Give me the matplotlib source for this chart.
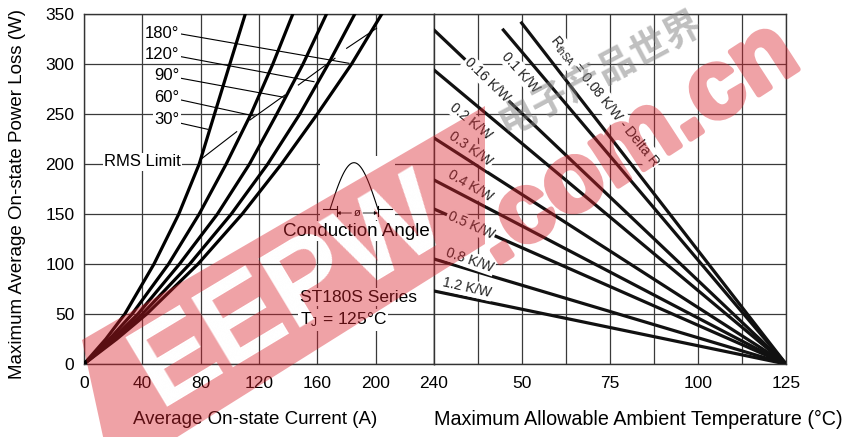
import numpy as np
import matplotlib.pyplot as plt
from matplotlib import patheffects as pe
from matplotlib.figure import Figure
from matplotlib.backends.backend_agg import FigureCanvasAgg
from matplotlib.patches import Polygon

plt.rcParams['font.family'] = ['Liberation Sans', 'DejaVu Sans']
plt.rcParams['mathtext.fontset'] = 'custom'
plt.rcParams['mathtext.rm'] = 'Liberation Sans'
plt.rcParams['mathtext.it'] = 'Liberation Sans'

# left panel: power loss vs average current for each conduction angle
power_levels = [0, 25, 50, 100, 150, 200, 250, 300, 350]
curve_labels = ['180°', '120°', '90°', '60°', '30°']
current_180 = [0, 22.5, 43, 78.2, 108.5, 135.4, 160, 183.5, 204.2]
current_120 = [0, 21, 40, 72.5, 101, 126, 148, 167.5, 185.7]
current_90 = [0, 19.5, 37, 65.5, 91.5, 113.5, 132.2, 150.2, 166.3]
current_60 = [0, 17.5, 33, 58, 79, 97.5, 114.5, 129.5, 143.2]
current_30 = [0, 15, 28, 48, 65, 79, 89.5, 100, 110.6]
curves = [current_180, current_120, current_90, current_60, current_30]

label_p = [331, 309.5, 288, 266.5, 244.5]
leader_start_p = [330, 307.3, 285.7, 264, 240.7]
leader_end_i = [181.7, 157.7, 137.2, 116.7, 84.8]
leader_end_p = [300.7, 282.3, 266.7, 248, 234.7]

# RMS limit line, drawn in pieces between the curves
rms_seg_i = [(79.5, 104.7), (113.8, 137.8), (147, 172.1), (180.1, 200.6)]
rms_seg_p = [(204, 232.3), (244, 269), (279, 305.7), (315.7, 335.7)]

# right panel: heatsink thermal resistance lines, all ending at 125 C / 0 W
rth_start_t = [49.9, 44.7, 25, 25, 25, 25, 25, 25, 25]
rth_start_p = [341, 334, 334, 294, 226, 184, 155, 105, 73]
rth_end_t = 125
rth_end_p = 0
rth_labels = [r'R$_{\mathrm{thSA}}$ = 0.08 K/W - Delta R', '0.1 K/W', '0.16 K/W',
              '0.2 K/W', '0.3 K/W', '0.4 K/W', '0.5 K/W', '0.8 K/W', '1.2 K/W']
rth_label_t = [73.3, 49.7, 40.1, 35.5, 35.5, 35.2, 35.5, 35.2, 34.4]
rth_label_p = [263, 291.5, 284, 243, 215, 178, 139, 104, 76.5]
rth_label_rot = [-51, -48, -44, -39, -35, -30, -24, -19, -13]

W, H = 846, 437


def fade(alpha):
    def f(img, dpi):
        img = img.copy()
        img[..., 3] *= alpha
        return img, 0, 0
    return f


fig = plt.figure(figsize=(W / 100, H / 100), dpi=100)
ax1 = fig.add_axes([84 / W, 73 / H, 350 / W, 350 / H])
ax2 = fig.add_axes([434 / W, 73 / H, 352 / W, 350 / H])

grid_kw = dict(color='#3a3a3a', linewidth=0.9)
white_box = dict(facecolor='white', edgecolor='none', pad=1)

# ---- left panel
ax1.set_xlim(0, 240)
ax1.set_ylim(0, 350)
ax1.set_xticks(range(0, 241, 40))
ax1.set_yticks(range(0, 351, 50))
ax1.grid(True, **grid_kw)
ax1.set_axisbelow(True)
ax1.tick_params(length=0, labelsize=12.5)
ax1.tick_params(axis='x', pad=9)
ax1.tick_params(axis='y', pad=7)

for si, sp_ in zip(rms_seg_i, rms_seg_p):
    ax1.plot(si, sp_, color='black', linewidth=0.8, zorder=3)
for cur in curves:
    ax1.plot(cur, power_levels, color='black', linewidth=2.3, zorder=4)

for lab, lp, sp, ei, ep in zip(curve_labels, label_p, leader_start_p, leader_end_i, leader_end_p):
    ax1.plot([66.6, ei], [sp, ep], color='black', linewidth=0.8, zorder=3)
    ax1.text(65.5, lp, lab, ha='right', va='center', fontsize=12, bbox=white_box, zorder=5)

ax1.text(66.5, 202, 'RMS Limit', ha='right', va='center', fontsize=12, bbox=white_box, zorder=5)

# conduction angle sketch
ax1.add_patch(plt.Rectangle((162, 144), 51, 64, facecolor='white', edgecolor='none', zorder=2))
wx = np.linspace(168.7, 201.6, 60)
ax1.plot(wx, 154.7 + 46.6 * np.sin(np.pi * (wx - 168.7) / (201.6 - 168.7)),
         color='black', linewidth=0.8, zorder=3)
ax1.plot([163.9, 173.2], [154.7, 154.7], color='black', linewidth=0.8, zorder=3)
ax1.plot([201.6, 211.2], [154.7, 154.7], color='black', linewidth=0.8, zorder=3)
for tx in [173.2, 201.6]:
    ax1.plot([tx, tx], [148, 158], color='black', linewidth=0.8, zorder=3)
    ax1.annotate('', xy=(tx, 151), xytext=(187.4 + (4 if tx > 187 else -4), 151),
                 arrowprops=dict(arrowstyle='-|>', color='black', lw=0.6,
                                 mutation_scale=5, shrinkA=0, shrinkB=0), zorder=3)
ax1.text(187.4, 151, 'ø', ha='center', va='center', fontsize=8, zorder=5)
ax1.text(186.5, 133, 'Conduction Angle', ha='center', va='center', fontsize=13.5,
         bbox=white_box, zorder=5)

ax1.text(148, 67, 'ST180S Series', ha='left', va='center', fontsize=12.5, bbox=white_box, zorder=5)
ax1.text(148, 44, r'T$_\mathrm{J}$ = 125°C', ha='left', va='center', fontsize=12.5,
         bbox=white_box, zorder=5)

# ---- right panel
ax2.set_xlim(25, 125)
ax2.set_ylim(0, 350)
ax2.set_xticks([50, 75, 100, 125])
ax2.set_xticks([37.5, 62.5, 87.5, 112.5], minor=True)
ax2.set_yticks(range(0, 351, 50))
ax2.set_yticklabels([])
ax2.grid(True, which='both', **grid_kw)
ax2.set_axisbelow(True)
ax2.tick_params(which='both', length=0, labelsize=12.5)
ax2.tick_params(axis='x', pad=9)

for t0, p0 in zip(rth_start_t, rth_start_p):
    ax2.plot([t0, rth_end_t], [p0, rth_end_p], color='#111111', linewidth=2.3, zorder=3)

for lab, lt, lp, rot in zip(rth_labels, rth_label_t, rth_label_p, rth_label_rot):
    ax2.text(lt, lp, lab, ha='center', va='center', rotation=rot, rotation_mode='anchor',
             fontsize=10, color='#222222', bbox=white_box, zorder=5)

for ax in (ax1, ax2):
    for sp in ax.spines.values():
        sp.set_color('#333333')
        sp.set_linewidth(1)

fig.text(255 / W, 0.039, 'Average On-state Current (A)', ha='center', va='center', fontsize=13.5)
fig.text(638 / W, 0.039, 'Maximum Allowable Ambient Temperature (°C)', ha='center',
         va='center', fontsize=14.2)
fig.text(18 / W, 0.556, 'Maximum Average On-state Power Loss (W)', ha='center',
         va='center', rotation=90, fontsize=13.5)

# ---- watermark: red band with "EEPW" knocked out, plus ".com.cn"
mfig = Figure(figsize=(W / 100, H / 100), dpi=100)
FigureCanvasAgg(mfig)
band_px = [(82, 340), (485, 106), (485, 244), (112, 478)]
mfig.add_artist(Polygon([(x / W, 1 - y / H) for x, y in band_px], closed=True,
                        transform=mfig.transFigure, facecolor='black', edgecolor='none'))
mfig.text(290 / W, 1 - 292 / H, 'EEPW', ha='center', va='center', rotation=31,
          fontsize=84, fontweight='bold', color='white')
mfig.text(0.751, 0.668, '.com.cn', ha='center', va='center', rotation=33, fontsize=70,
          fontweight='bold', color='black',
          path_effects=[pe.withStroke(linewidth=4, foreground='black')])
mfig.canvas.draw()
mask = 1 - np.asarray(mfig.canvas.buffer_rgba())[..., 0] / 255.0
wm = np.zeros((H, W, 4))
wm[..., 0], wm[..., 1], wm[..., 2] = 0.851, 0.137, 0.176
wm[..., 3] = mask * 0.42
fig.figimage(wm, xo=0, yo=0, zorder=10)

wm3 = fig.text(0.709, 0.835, '电子产品世界', ha='center', va='center', rotation=28, fontsize=27,
               fontweight='bold', family=['Noto Sans CJK SC', 'DejaVu Sans'],
               color='#808080', zorder=10)
wm3.set_agg_filter(fade(0.5))

fig.savefig('out.png', dpi=100)
